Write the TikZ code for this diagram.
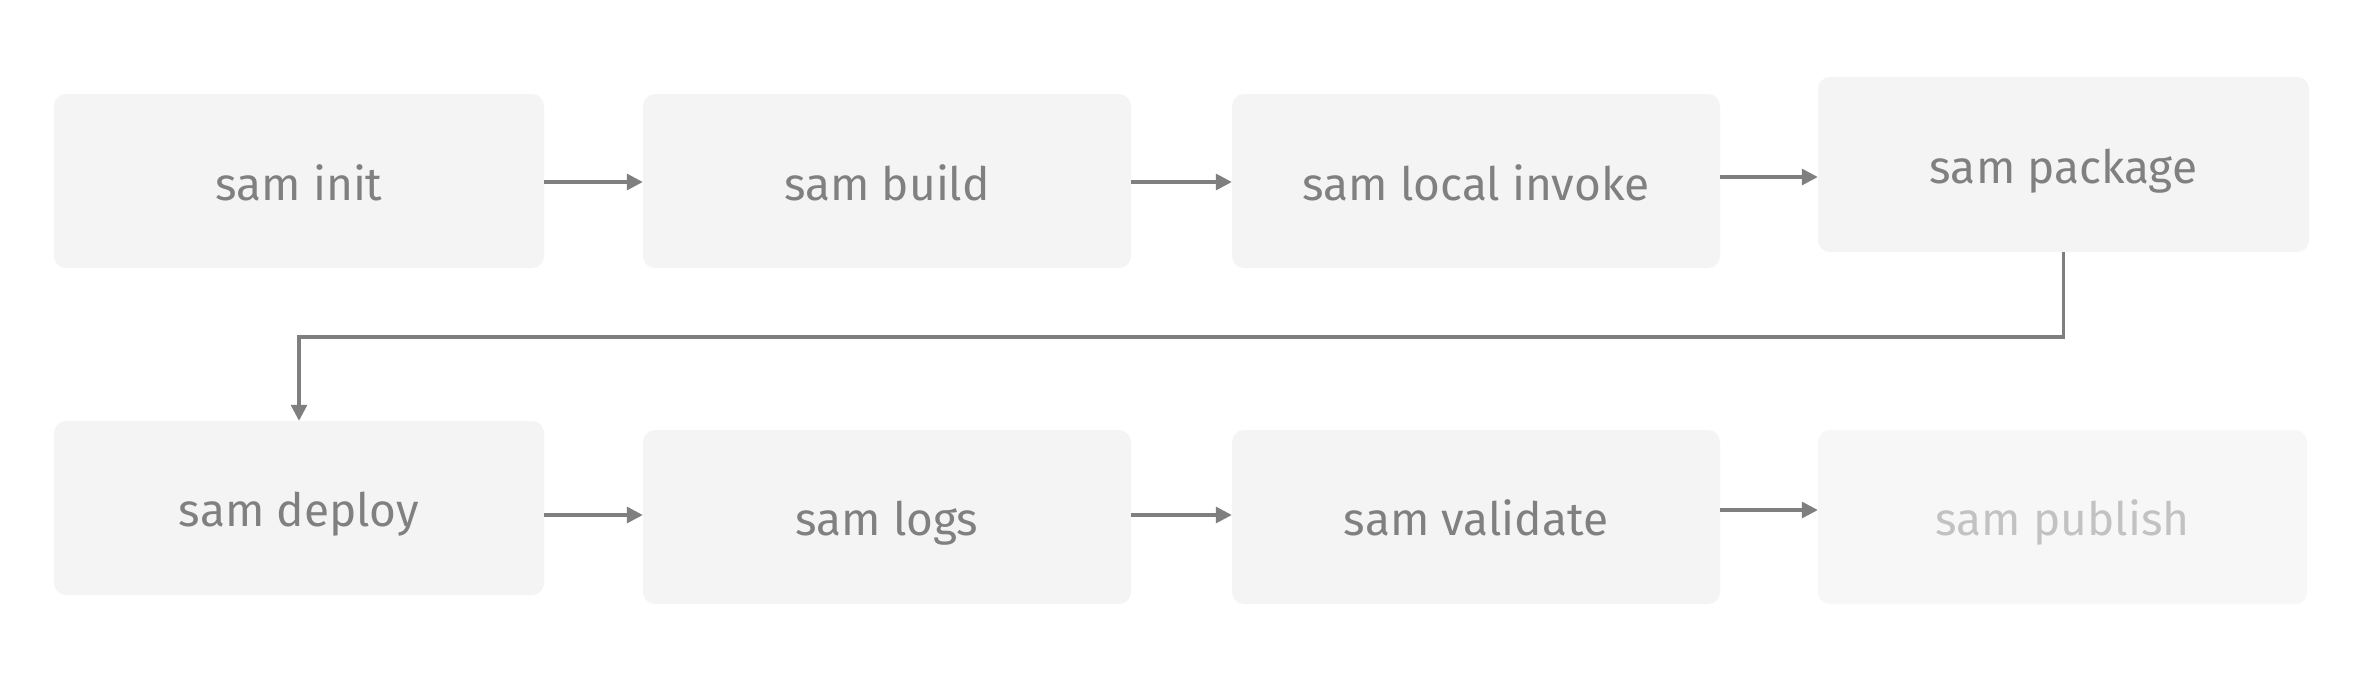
\documentclass[tikz,border=0pt]{standalone}
\usepackage{fontspec}
\setmainfont{Fira Sans}
\usetikzlibrary{arrows.meta}
\definecolor{boxfill}{HTML}{F4F4F4}
\definecolor{boxfillb}{HTML}{F7F7F7}
\definecolor{txt}{HTML}{808080}
\definecolor{txtlight}{HTML}{C2C2C2}
\definecolor{arr}{HTML}{7F7F7F}
\tikzset{
  x=1pt, y=-1pt,
  stepbox/.style={fill=boxfill, draw=none, rounded corners=12pt, inner sep=0pt},
  lbl/.style={anchor=base, text=txt, font=\fontsize{46}{54}\selectfont},
  flow/.style={draw=arr, line width=3.2pt, -{Triangle[length=16pt,width=16pt]}},
}
\begin{document}
\begin{tikzpicture}
\useasboundingbox (0,0) rectangle (2358,686);
\fill[white] (0,0) rectangle (2358,686);
% row 1
\node[stepbox, minimum width=490pt, minimum height=174pt] (b1) at (299,181) {};
\node[stepbox, minimum width=488pt, minimum height=174pt] (b2) at (887,181) {};
\node[stepbox, minimum width=488pt, minimum height=174pt] (b3) at (1476,181) {};
\node[stepbox, minimum width=491pt, minimum height=175pt] (b4) at (2063.5,164.5) {};
% row 2
\node[stepbox, minimum width=490pt, minimum height=174pt] (b5) at (299,508) {};
\node[stepbox, minimum width=488pt, minimum height=174pt] (b6) at (887,517) {};
\node[stepbox, minimum width=488pt, minimum height=174pt] (b7) at (1476,517) {};
\node[stepbox, fill=boxfillb, minimum width=489pt, minimum height=174pt] (b8) at (2062.5,517) {};
% labels
\node[lbl] (t1) at (299,200) {sam init};
\node[lbl] (t2) at (887,200) {sam build};
\node[lbl] (t3) at (1476,200) {sam local invoke};
\node[lbl] (t4) at (2063.5,183) {sam package};
\node[lbl] (t5) at (299,526) {sam deploy};
\node[lbl] (t6) at (887,535) {sam logs};
\node[lbl] (t7) at (1476,535) {sam validate};
\node[lbl, text=txtlight] (t8) at (2062.5,535) {sam publish};
% connectors
\draw[flow] (b1.east |- 0,182) -- (b2.west |- 0,182);
\draw[flow] (b2.east |- 0,182) -- (b3.west |- 0,182);
\draw[flow] (b3.east |- 0,177) -- (b4.west |- 0,177);
\draw[flow] (b4.south) -- (b4.south |- 0,337) -| (b5.north);
\draw[flow] (b5.east |- 0,515) -- (b6.west |- 0,515);
\draw[flow] (b6.east |- 0,515) -- (b7.west |- 0,515);
\draw[flow] (b7.east |- 0,510) -- (b8.west |- 0,510);
\end{tikzpicture}
\end{document}
